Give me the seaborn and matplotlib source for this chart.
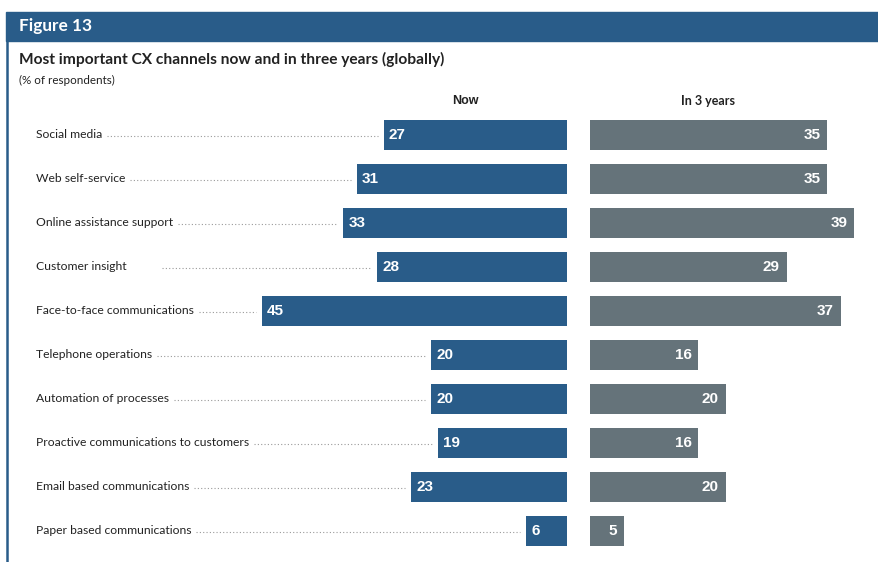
import matplotlib
matplotlib.use("Agg")
import matplotlib.pyplot as plt
from matplotlib.patches import Rectangle
from matplotlib.lines import Line2D
import matplotlib.transforms as mtransforms
import seaborn as sns
import pandas as pd

# ---- data ----
channels = [
    "Social media",
    "Web self-service",
    "Online assistance support",
    "Customer insight",
    "Face-to-face communications",
    "Telephone operations",
    "Automation of processes",
    "Proactive communications to customers",
    "Email based communications",
    "Paper based communications",
]
now_values = [27, 31, 33, 28, 45, 20, 20, 19, 23, 6]
future_values = [35, 35, 39, 29, 37, 16, 20, 16, 20, 5]
column_titles = ["Now", "In 3 years"]

df = pd.DataFrame({"channel": channels, "now": now_values, "future": future_values})

# ---- style ----
BLUE = "#295c89"
GREY = "#65737a"
TEXT = "#222222"
W, H = 879, 562
DPI = 100
PX_PER_UNIT = 6.78

sns.set_theme(style="white")
plt.rcParams["font.family"] = ["Lato", "DejaVu Sans"]

fig = plt.figure(figsize=(W / DPI, H / DPI), dpi=DPI)
fig.patch.set_facecolor("white")


def fx(px):
    return px / W


def fy(py):
    return 1 - py / H


# header band and left frame rule
fig.patches.append(Rectangle((fx(6), fy(41)), 1 - fx(6), 29 / H,
                             transform=fig.transFigure, color=BLUE, zorder=0))
fig.add_artist(Line2D([fx(7), fx(7)], [0, fy(41)], transform=fig.transFigure,
                      color=BLUE, lw=1.8))
fig.text(fx(19), fy(26.5), "Figure 13", color="white", fontsize=12.4,
         fontweight="bold", va="center", ha="left")
fig.text(fx(19), fy(59), "Most important CX channels now and in three years (globally)",
         color=TEXT, fontsize=11.2, fontweight="bold", va="center", ha="left")
fig.text(fx(19), fy(80), "(% of respondents)", color=TEXT, fontsize=8.4,
         va="center", ha="left")

# plot areas
row_h = 44
top_px = 113
n = len(channels)
ax_bottom = fy(top_px + n * row_h)
ax_height = n * row_h / H

now_left, now_right = 20, 567
fut_left, fut_right = 590, 879
ax_now = fig.add_axes([fx(now_left), ax_bottom, fx(now_right - now_left), ax_height])
ax_fut = fig.add_axes([fx(fut_left), ax_bottom, fx(fut_right - fut_left), ax_height])

sns.barplot(data=df, x="now", y="channel", orient="h", ax=ax_now,
            color=BLUE, saturation=1, width=0.68, linewidth=0)
sns.barplot(data=df, x="future", y="channel", orient="h", ax=ax_fut,
            color=GREY, saturation=1, width=0.68, linewidth=0)

ax_now.set_xlim((now_right - now_left) / PX_PER_UNIT, 0)
ax_fut.set_xlim(0, (fut_right - fut_left) / PX_PER_UNIT)
for ax in (ax_now, ax_fut):
    ax.set_ylim(n - 0.5, -0.5)
    ax.axis("off")

# value labels
for i, v in enumerate(now_values):
    ax_now.annotate(str(v), (v, i), xytext=(3.6, 0), textcoords="offset points",
                    ha="left", va="center", color="white", fontsize=11,
                    fontweight="bold", family="Liberation Sans")
for i, v in enumerate(future_values):
    ax_fut.annotate(str(v), (v, i), xytext=(-5, 0), textcoords="offset points",
                    ha="right", va="center", color="white", fontsize=11,
                    fontweight="bold", family="Liberation Sans")

# column headings
fig.text(fx(465), fy(101), column_titles[0], color=TEXT, fontsize=9,
         fontweight="bold", ha="center", va="center", family="Liberation Sans")
fig.text(fx(708), fy(101), column_titles[1], color=TEXT, fontsize=9,
         fontweight="bold", ha="center", va="center")

# category labels with dotted leaders to the bars
lab_tr = mtransforms.blended_transform_factory(fig.transFigure, ax_now.transData)
labels = []
for i, name in enumerate(channels):
    labels.append(ax_now.text(fx(36), i, name, transform=lab_tr, ha="left",
                              va="center", color=TEXT, fontsize=8.7))

leader_start_px = {"Customer insight": 162}
fig.canvas.draw()
renderer = fig.canvas.get_renderer()
for i, (name, t) in enumerate(zip(channels, labels)):
    bb = t.get_window_extent(renderer)
    x0 = leader_start_px.get(name, bb.x1 + 5)
    x1 = ax_now.transData.transform((now_values[i], i))[0] - 6
    yd = ax_now.transData.transform((0, i))[1] - 1
    fig.add_artist(Line2D([x0 / W, x1 / W], [yd / H, yd / H],
                          transform=fig.transFigure, color="#9a9a9a",
                          lw=0.8, linestyle=(0, (1, 2))))

fig.savefig("out.png", dpi=DPI, facecolor="white")
